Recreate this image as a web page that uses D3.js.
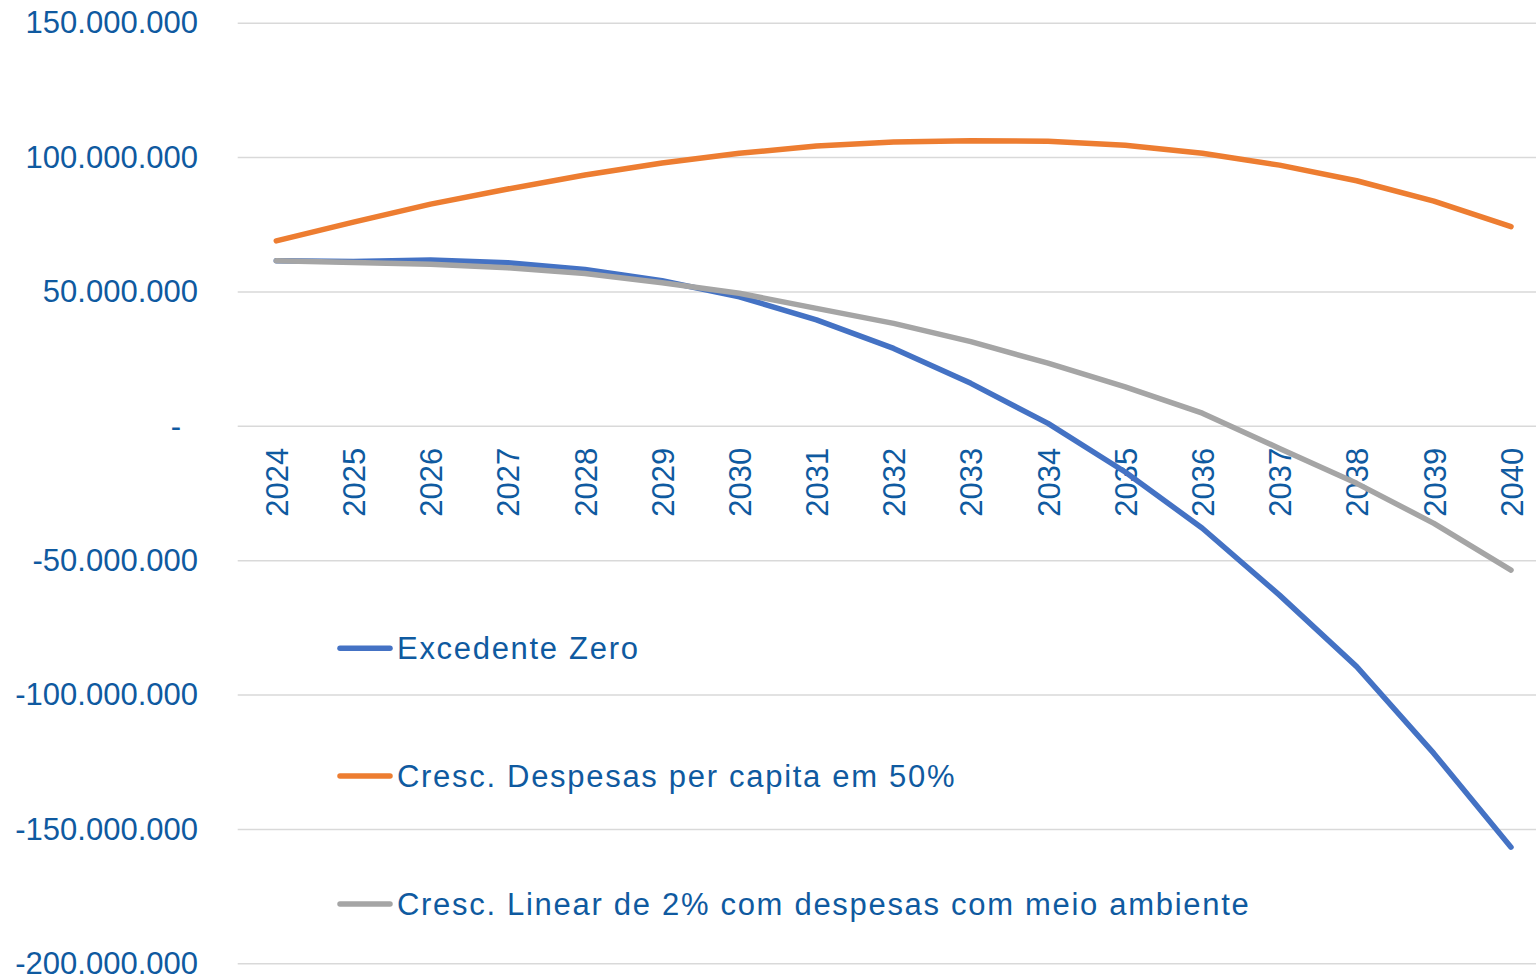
<!DOCTYPE html>
<html>
<head>
<meta charset="utf-8">
<script src="https://cdn.jsdelivr.net/npm/d3@7"></script>
<style>
  html, body { margin: 0; padding: 0; background: #fff; }
  svg { display: block; }
  text { font-family: "Liberation Sans", Arial, sans-serif; fill: #0F5AA0; }
</style>
</head>
<body>
<svg id="chart" width="1536" height="980"></svg>
<script>
const years = ["2024","2025","2026","2027","2028","2029","2030","2031","2032","2033","2034","2035","2036","2037","2038","2039","2040"];
const excedenteZero = [61.4, 61.1, 61.7, 60.7, 58.2, 54.0, 48.0, 39.4, 28.8, 15.8, 0.9, -17.2, -38.1, -63.0, -89.6, -121.9, -156.8].map(v => v * 1e6);
const crescDespesas = [68.8, 75.8, 82.5, 88.1, 93.3, 97.8, 101.4, 104.1, 105.6, 106.1, 105.9, 104.4, 101.4, 97.0, 91.2, 83.6, 74.1].map(v => v * 1e6);
const crescLinear = [61.4, 60.8, 60.1, 58.8, 56.7, 53.2, 49.3, 43.7, 38.1, 31.3, 23.3, 14.5, 4.7, -8.4, -21.4, -36.3, -53.7].map(v => v * 1e6);
const yTicks = [-200e6, -150e6, -100e6, -50e6, 0, 50e6, 100e6, 150e6];
const seriesNames = ["Excedente Zero", "Cresc. Despesas per capita em 50%", "Cresc. Linear de 2% com despesas com meio ambiente"];
const seriesColors = ["#4472C4", "#ED7D31", "#A5A5A5"];
const seriesValues = [excedenteZero, crescDespesas, crescLinear];

(function () {
const svg = d3.select("#chart");
const plotLeft = 237.7, plotRight = 1549.6, plotTop = 22.7, plotBottom = 963.3;

const x = d3.scalePoint().domain(years).range([plotLeft, plotRight]).padding(0.5);
const y = d3.scaleLinear().domain([-200e6, 150e6]).range([plotBottom, plotTop]);

const fmt = v => v === 0 ? "-" : d3.format(",.0f")(v).replace(/,/g, ".").replace("−", "-");

// gridlines
const grid = svg.append("g").attr("transform", `translate(${plotLeft},0)`)
  .call(d3.axisLeft(y).tickValues(yTicks).tickSize(-(1536 - plotLeft)).tickFormat(""));
grid.select(".domain").remove();
grid.selectAll("line").attr("stroke", "#D9D9D9").attr("stroke-width", 1.5);

// y labels
const yAxis = svg.append("g").attr("transform", `translate(198,0)`)
  .call(d3.axisLeft(y).tickValues(yTicks).tickSize(0).tickPadding(0).tickFormat(fmt));
yAxis.select(".domain").remove();
yAxis.selectAll("text")
  .attr("font-size", 31)
  .attr("dy", "0.33em")
  .attr("x", d => d === 0 ? -17 : 0)
  .style("fill", "#0F5AA0")
  .style("font-family", "\"Liberation Sans\", Arial, sans-serif");

// x labels
const xAxis = svg.append("g").attr("transform", `translate(0,${y(0)})`)
  .call(d3.axisBottom(x).tickSize(0));
xAxis.select(".domain").remove();
xAxis.selectAll("text")
  .attr("font-size", 31)
  .attr("transform", "rotate(-90)")
  .attr("text-anchor", "end")
  .attr("x", -22)
  .attr("y", 0)
  .attr("dy", "0.36em")
  .style("fill", "#0F5AA0")
  .style("font-family", "\"Liberation Sans\", Arial, sans-serif");

// lines
const line = d3.line().x((d, i) => x(years[i])).y(d => y(d));
seriesValues.forEach((vals, k) => {
  svg.append("path")
    .datum(vals)
    .attr("d", line)
    .attr("fill", "none")
    .attr("stroke", seriesColors[k])
    .attr("stroke-width", 5.5)
    .attr("stroke-linecap", "round")
    .attr("stroke-linejoin", "round");
});

// legend
const legendY = [648.3, 776, 904];
const legend = svg.append("g");
seriesNames.forEach((name, k) => {
  legend.append("line")
    .attr("x1", 340).attr("x2", 390)
    .attr("y1", legendY[k]).attr("y2", legendY[k])
    .attr("stroke", seriesColors[k])
    .attr("stroke-width", 5.5)
    .attr("stroke-linecap", "round");
  legend.append("text")
    .attr("x", 397)
    .attr("y", legendY[k])
    .attr("dy", "0.36em")
    .attr("font-size", 31)
    .attr("letter-spacing", 1.7)
    .text(name);
});
})();
</script>
</body>
</html>
